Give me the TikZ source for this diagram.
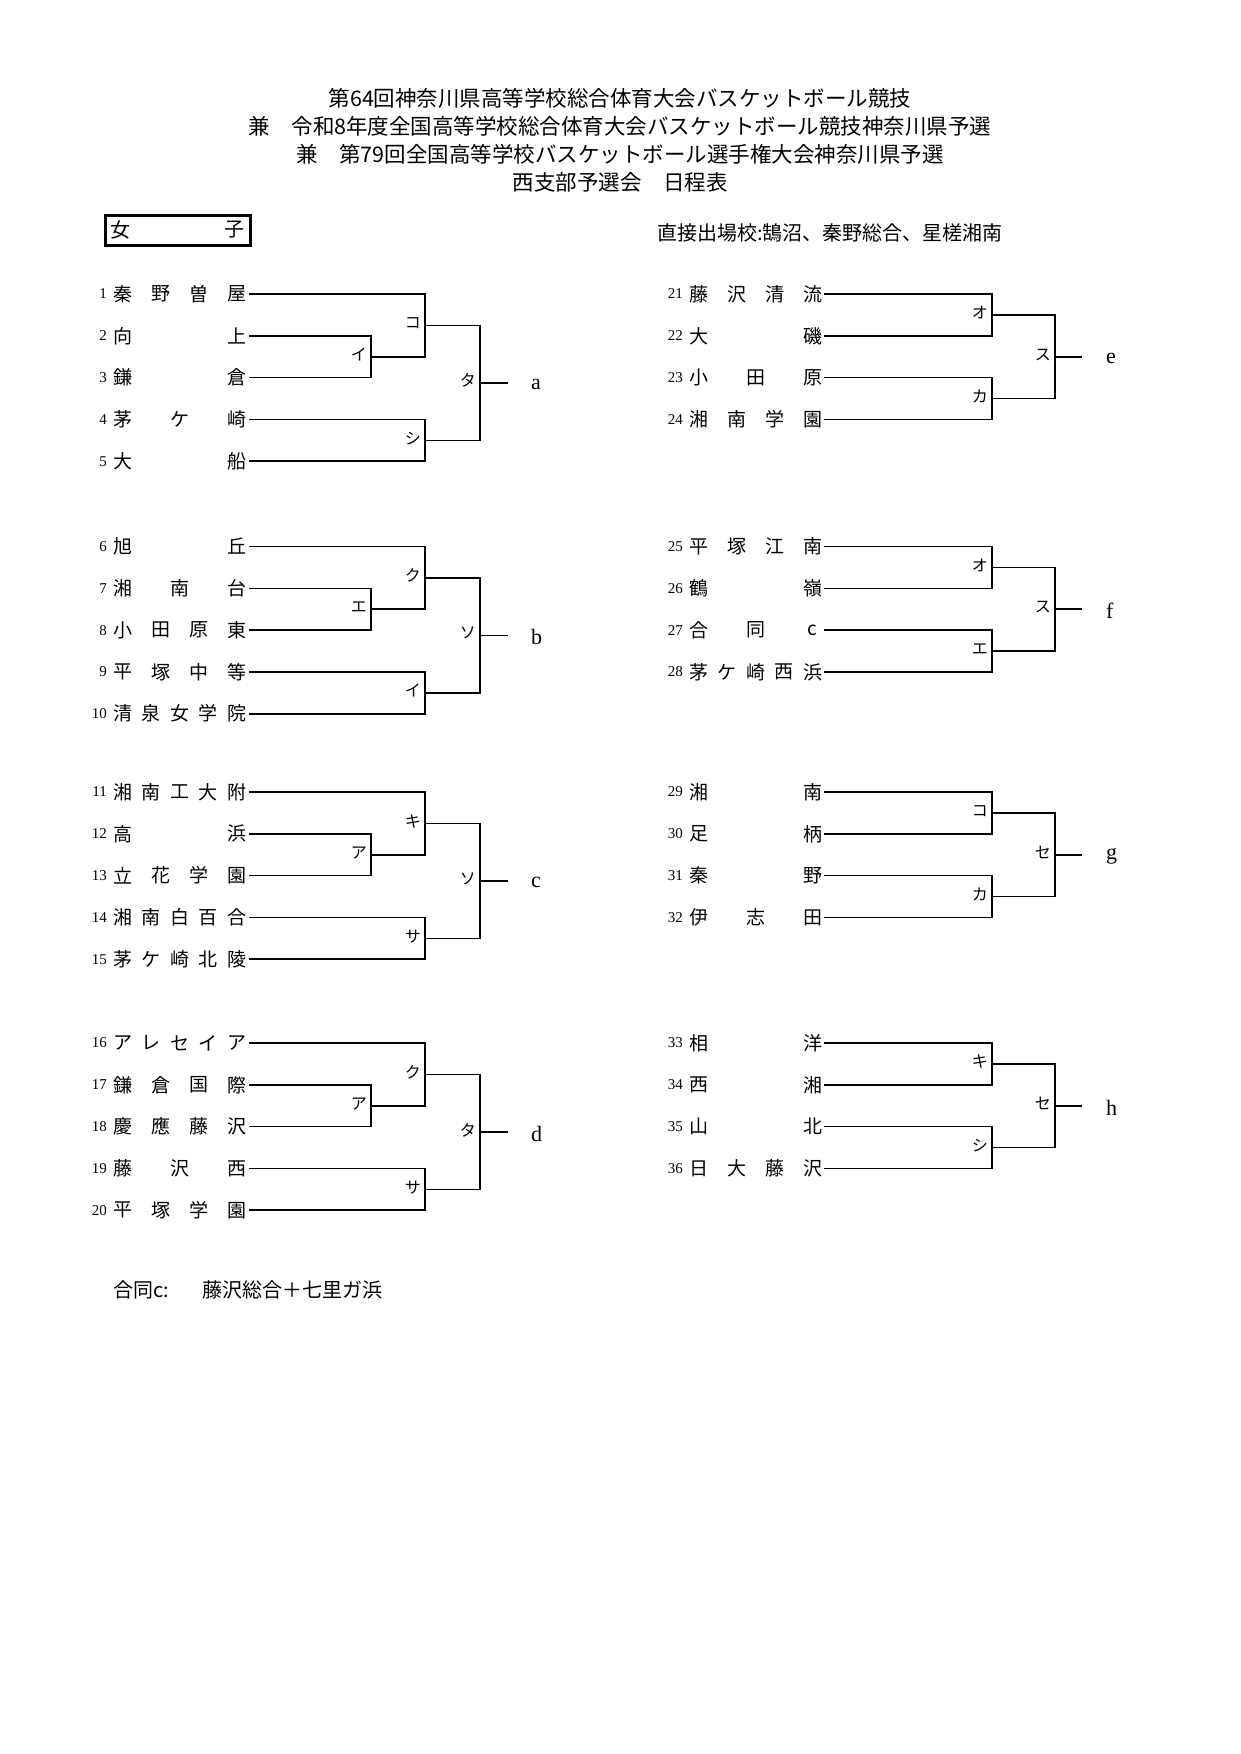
\documentclass[tikz,border=0pt]{standalone}
\usepackage{fontspec}
\setmainfont{Liberation Serif}
\newfontfamily\jp{Noto Sans CJK JP}
\begin{document}
\begin{tikzpicture}[x=1pt,y=-1pt,
  nm/.style={inner sep=0pt,font=\jp\fontsize{19}{21}\selectfont},
  num/.style={inner sep=0pt,font=\fontsize{15}{17}\selectfont},
  lab/.style={inner sep=0pt,anchor=east,font=\jp\fontsize{16}{18}\selectfont},
  outl/.style={inner sep=0pt,anchor=west,font=\fontsize{22}{24}\selectfont},
  ttl/.style={inner sep=0pt,font=\jp\fontsize{21.5}{24}\selectfont},
  sub/.style={inner sep=0pt,anchor=west,font=\jp\fontsize{20}{22}\selectfont},
  br/.style={line width=1.6pt}]
\useasboundingbox (0,0) rectangle (1240,1754);
\fill[white] (0,0) rectangle (1240,1754);
\node[ttl] (t1) at (620,98) {第64回神奈川県高等学校総合体育大会バスケットボール競技};
\node[ttl] (t2) at (620,126) {兼\quad 令和8年度全国高等学校総合体育大会バスケットボール競技神奈川県予選};
\node[ttl] (t3) at (620,154) {兼\quad 第79回全国高等学校バスケットボール選手権大会神奈川県予選};
\node[ttl] (t4) at (620,182) {西支部予選会\quad 日程表};
\draw[line width=3pt] (105,215) rectangle (250,245);
\node[sub] (g1) at (110,230) {女};
\node[sub,anchor=east] (g2) at (245,230) {子};
\node[sub] (dq) at (657,233) {直接出場校:鵠沼、秦野総合、星槎湘南};
\node[sub] (n1) at (113,1290) {合同c:};
\node[sub] (n2) at (202,1290) {藤沢総合＋七里ガ浜};
\newcommand\team[5]{%
  \node[num,anchor=east] at (#1-6,#2) {#3};
  \foreach \c [count=\i] in {#5}{%
    \pgfmathsetmacro\xx{#1+(\i-1)*(133-19)/max(#4-1,1)}%
    \node[nm,anchor=west] at (\xx,#2) {\c};}}
\def\s{41.8}
\def\La{249}\def\Lb{371}\def\Lc{425}\def\Ld{480}\def\Le{508}\def\Lf{531}
\newcommand\bfive[6]{%
  \pgfmathsetmacro\ra{#1}\pgfmathsetmacro\rb{#1+\s}\pgfmathsetmacro\rc{#1+2*\s}%
  \pgfmathsetmacro\rd{#1+3*\s}\pgfmathsetmacro\re{#1+4*\s}%
  \pgfmathsetmacro\mbc{(\rb+\rc)/2}\pgfmathsetmacro\mA{(\ra+\mbc)/2}%
  \pgfmathsetmacro\mB{(\rd+\re)/2}\pgfmathsetmacro\mF{(\mA+\mB)/2}%
  \draw[br] (\La,\ra) -- (\Lc,\ra) -- (\Lc,\mbc) -- (\Lb,\mbc);
  \draw[br] (\La,\rb) -- (\Lb,\rb) -- (\Lb,\rc) -- (\La,\rc);
  \draw[br] (\La,\rd) -- (\Lc,\rd) -- (\Lc,\re) -- (\La,\re);
  \draw[br] (\Lc,\mA) -- (\Ld,\mA) -- (\Ld,\mB) -- (\Lc,\mB);
  \draw[br] (\Ld,\mF) -- (\Le,\mF);
  \node[lab] at (\Lb-4,\mbc-2) {#2};
  \node[lab] at (\Lc-4,\mA-2) {#3};
  \node[lab] at (\Lc-4,\mB-2) {#4};
  \node[lab] at (\Ld-4,\mF-2) {#5};
  \node[outl] at (\Lf,\mF+2) {#6};}
\def\Ra{824}\def\Rb{992}\def\Rc{1055}\def\Rd{1082}\def\Rf{1106}
\newcommand\bfour[5]{%
  \pgfmathsetmacro\ra{#1}\pgfmathsetmacro\rb{#1+\s}\pgfmathsetmacro\rc{#1+2*\s}%
  \pgfmathsetmacro\rd{#1+3*\s}%
  \pgfmathsetmacro\mA{(\ra+\rb)/2}\pgfmathsetmacro\mB{(\rc+\rd)/2}\pgfmathsetmacro\mF{(\mA+\mB)/2}%
  \draw[br] (\Ra,\ra) -- (\Rb,\ra) -- (\Rb,\rb) -- (\Ra,\rb);
  \draw[br] (\Ra,\rc) -- (\Rb,\rc) -- (\Rb,\rd) -- (\Ra,\rd);
  \draw[br] (\Rb,\mA) -- (\Rc,\mA) -- (\Rc,\mB) -- (\Rb,\mB);
  \draw[br] (\Rc,\mF) -- (\Rd,\mF);
  \node[lab] at (\Rb-4,\mA-2) {#2};
  \node[lab] at (\Rb-4,\mB-2) {#3};
  \node[lab] at (\Rc-4,\mF-2) {#4};
  \node[outl] at (\Rf,\mF+2) {#5};}
\def\ya{294}\def\yb{546.5}\def\yc{792}\def\yd{1043}
\bfive{\ya}{イ}{コ}{シ}{タ}{a}
\bfive{\yb}{エ}{ク}{イ}{ソ}{b}
\bfive{\yc}{ア}{キ}{サ}{ソ}{c}
\bfive{\yd}{ア}{ク}{サ}{タ}{d}
\bfour{\ya}{オ}{カ}{ス}{e}
\bfour{\yb}{オ}{エ}{ス}{f}
\bfour{\yc}{コ}{カ}{セ}{g}
\bfour{\yd}{キ}{シ}{セ}{h}
\team{113}{\ya}{1}{4}{秦,野,曽,屋}
\team{113}{\ya+\s}{2}{2}{向,上}
\team{113}{\ya+2*\s}{3}{2}{鎌,倉}
\team{113}{\ya+3*\s}{4}{3}{茅,ケ,崎}
\team{113}{\ya+4*\s}{5}{2}{大,船}
\team{113}{\yb}{6}{2}{旭,丘}
\team{113}{\yb+\s}{7}{3}{湘,南,台}
\team{113}{\yb+2*\s}{8}{4}{小,田,原,東}
\team{113}{\yb+3*\s}{9}{4}{平,塚,中,等}
\team{113}{\yb+4*\s}{10}{5}{清,泉,女,学,院}
\team{113}{\yc}{11}{5}{湘,南,工,大,附}
\team{113}{\yc+\s}{12}{2}{高,浜}
\team{113}{\yc+2*\s}{13}{4}{立,花,学,園}
\team{113}{\yc+3*\s}{14}{5}{湘,南,白,百,合}
\team{113}{\yc+4*\s}{15}{5}{茅,ケ,崎,北,陵}
\team{113}{\yd}{16}{5}{ア,レ,セ,イ,ア}
\team{113}{\yd+\s}{17}{4}{鎌,倉,国,際}
\team{113}{\yd+2*\s}{18}{4}{慶,應,藤,沢}
\team{113}{\yd+3*\s}{19}{3}{藤,沢,西}
\team{113}{\yd+4*\s}{20}{4}{平,塚,学,園}
\team{689}{\ya}{21}{4}{藤,沢,清,流}
\team{689}{\ya+\s}{22}{2}{大,磯}
\team{689}{\ya+2*\s}{23}{3}{小,田,原}
\team{689}{\ya+3*\s}{24}{4}{湘,南,学,園}
\team{689}{\yb}{25}{4}{平,塚,江,南}
\team{689}{\yb+\s}{26}{2}{鶴,嶺}
\team{689}{\yb+2*\s}{27}{3}{合,同,\ c}
\team{689}{\yb+3*\s}{28}{5}{茅,ケ,崎,西,浜}
\team{689}{\yc}{29}{2}{湘,南}
\team{689}{\yc+\s}{30}{2}{足,柄}
\team{689}{\yc+2*\s}{31}{2}{秦,野}
\team{689}{\yc+3*\s}{32}{3}{伊,志,田}
\team{689}{\yd}{33}{2}{相,洋}
\team{689}{\yd+\s}{34}{2}{西,湘}
\team{689}{\yd+2*\s}{35}{2}{山,北}
\team{689}{\yd+3*\s}{36}{4}{日,大,藤,沢}
\end{tikzpicture}
\end{document}
